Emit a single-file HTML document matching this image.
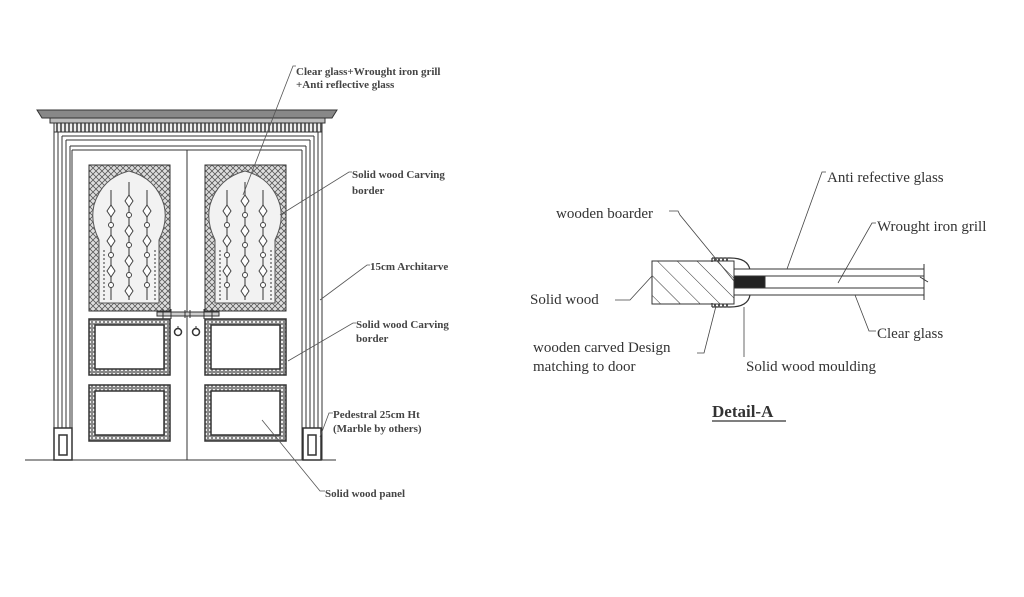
<!DOCTYPE html>
<html><head><style>
html,body{margin:0;padding:0;background:#fff;}
svg{display:block}
.b{font-family:"Liberation Serif",serif;font-weight:bold;font-size:11px;fill:#444}
.r{font-family:"Liberation Serif",serif;font-size:15px;fill:#333}
</style></head><body>
<svg width="1024" height="597" viewBox="0 0 1024 597" xmlns="http://www.w3.org/2000/svg">
<defs>
<pattern id="hx" width="6" height="6" patternUnits="userSpaceOnUse">
<rect width="6" height="6" fill="#ddd"/><path d="M0 3L3 0L6 3L3 6Z" fill="none" stroke="#555" stroke-width="0.8"/>
</pattern>
<pattern id="cv" width="4" height="4" patternUnits="userSpaceOnUse">
<rect width="4" height="4" fill="#888"/><rect x="1" y="1" width="2" height="2" fill="#eee"/>
</pattern>
<pattern id="dn" width="4" height="10" patternUnits="userSpaceOnUse">
<rect width="4" height="10" fill="#eee"/><rect width="2" height="10" fill="#666"/>
</pattern>
<pattern id="ht" width="14" height="14" patternUnits="userSpaceOnUse" patternTransform="rotate(-45)">
<line x1="0" y1="0" x2="0" y2="14" stroke="#333" stroke-width="1"/>
</pattern>
</defs>
<g stroke="#333" fill="none" stroke-width="1">
<path d="M37 110 H337 L332 118 H42 Z" fill="#888"/>
<rect x="50" y="118" width="275" height="5" fill="#bbb"/>
<rect x="54" y="123" width="268" height="9" fill="url(#dn)"/>
<path d="M54 132 V460 M58 132 V460 M62 136 V460 M66 140 V460 M70 146 V460 M72 150 V460"/>
<path d="M322 132 V460 M318 132 V460 M314 136 V460 M310 140 V460 M306 146 V460 M302 150 V460"/>
<path d="M54 132 H322 M62 136 H314 M66 140 H310 M70 146 H306 M72 150 H302"/>
<line x1="187" y1="150" x2="187" y2="460"/>
<rect x="54" y="428" width="18" height="32" fill="#fff" stroke-width="1.5"/>
<rect x="59" y="435" width="8" height="20" stroke-width="1.5"/>
<rect x="303" y="428" width="18" height="32" fill="#fff" stroke-width="1.5"/>
<rect x="308" y="435" width="8" height="20" stroke-width="1.5"/>
<line x1="25" y1="460" x2="336" y2="460"/>
<g id="gp">
<rect x="89" y="165" width="81" height="146" fill="url(#hx)"/>
<path d="M99 303 V240 Q90 222 94 205 Q102 178 129 171 Q156 178 164 205 Q168 222 159 240 V303 Z" fill="#f2f2f2" stroke="#555"/>
<g stroke="#555" stroke-width="1.2">
<path d="M111 190 V300 M129 182 V300 M147 190 V300"/>
<path d="M104 250 V300 M155 250 V300" stroke-dasharray="2 2"/>
</g>
<g fill="#fff" stroke="#444">
<path d="M111 205 l4 6 -4 6 -4 -6Z M111 235 l4 6 -4 6 -4 -6Z M111 265 l4 6 -4 6 -4 -6Z M147 205 l4 6 -4 6 -4 -6Z M147 235 l4 6 -4 6 -4 -6Z M147 265 l4 6 -4 6 -4 -6Z M129 195 l4 6 -4 6 -4 -6Z M129 225 l4 6 -4 6 -4 -6Z M129 255 l4 6 -4 6 -4 -6Z M129 285 l4 6 -4 6 -4 -6Z"/>
<circle cx="111" cy="225" r="2.5"/><circle cx="111" cy="255" r="2.5"/><circle cx="111" cy="285" r="2.5"/>
<circle cx="147" cy="225" r="2.5"/><circle cx="147" cy="255" r="2.5"/><circle cx="147" cy="285" r="2.5"/>
<circle cx="129" cy="215" r="2.5"/><circle cx="129" cy="245" r="2.5"/><circle cx="129" cy="275" r="2.5"/>
</g>
</g>
<use href="#gp" x="116"/>
<g id="lp">
<rect x="89" y="319" width="81" height="56" fill="url(#cv)" stroke-width="1.5"/>
<rect x="95" y="325" width="69" height="44" fill="#fff" stroke-width="1.5"/>
<rect x="89" y="385" width="81" height="56" fill="url(#cv)" stroke-width="1.5"/>
<rect x="95" y="391" width="69" height="44" fill="#fff" stroke-width="1.5"/>
</g>
<use href="#lp" x="116"/>
<rect x="157" y="312" width="62" height="4" fill="#ccc"/>
<path d="M163 309 V319 M171 309 V319 M204 309 V319 M212 309 V319 M185 310 V318 M190 310 V318"/>
<circle cx="178" cy="332" r="3.5" stroke-width="1.5"/><circle cx="196" cy="332" r="3.5" stroke-width="1.5"/>
<path d="M178 326 V328 M196 326 V328"/>
<g stroke="#555" stroke-width="0.8">
<path d="M296 66 H293 L243 195"/>
<path d="M352 172 H349 L280 215"/>
<path d="M370 265 H367 L320 300"/>
<path d="M356 323 H353 L288 361"/>
<path d="M333 413 H329 L320 437"/>
<path d="M325 491 H320 L262 420"/>
</g>
</g>
<g class="b">
<text x="296" y="75">Clear glass+Wrought iron grill</text>
<text x="296" y="88">+Anti reflective glass</text>
<text x="352" y="178">Solid wood Carving</text>
<text x="352" y="194">border</text>
<text x="370" y="270">15cm Architarve</text>
<text x="356" y="328">Solid wood Carving</text>
<text x="356" y="342">border</text>
<text x="333" y="418">Pedestral 25cm Ht</text>
<text x="333" y="432">(Marble by others)</text>
<text x="325" y="497">Solid wood panel</text>
</g>
<g stroke="#333" fill="none" stroke-width="1">
<rect x="652" y="261" width="82" height="43" fill="url(#ht)"/>
<path d="M712 258 H730 Q748 258 750 270 M712 258 V262 M712 307 H730 Q748 307 750 295 M712 307 V303" stroke-width="1.2"/>
<path d="M714 259 h16 M714 306 h16" stroke-dasharray="2 2" stroke-width="3" stroke="#555"/>
<rect x="734" y="269" width="190" height="26" fill="#fff"/>
<path d="M734 276 H924 M734 288 H924"/>
<rect x="734" y="276" width="31" height="12" fill="#222"/>
<path d="M924 264 V300 M920 277 L928 282"/>
<g stroke="#444" stroke-width="0.8">
<path d="M669 211 H678 L680 215 L734 281"/>
<path d="M615 300 H630 L652 276"/>
<path d="M697 353 H704 L716 306"/>
<path d="M744 357 L744 307"/>
<path d="M826 172 H822 L787 269"/>
<path d="M876 223 H872 L838 283"/>
<path d="M876 331 H869 L855 295"/>
</g>
</g>
<g class="r">
<text x="556" y="218">wooden boarder</text>
<text x="530" y="304">Solid wood</text>
<text x="533" y="352">wooden carved Design</text>
<text x="533" y="371">matching to door</text>
<text x="746" y="371">Solid wood moulding</text>
<text x="827" y="182">Anti refective glass</text>
<text x="877" y="231">Wrought iron grill</text>
<text x="877" y="338">Clear glass</text>
</g>
<text x="712" y="417" style="font-family:'Liberation Serif',serif;font-weight:bold;font-size:17px;fill:#333">Detail-A</text>
<line x1="712" y1="421" x2="786" y2="421" stroke="#333" stroke-width="1.2"/>
</svg>
</body></html>
